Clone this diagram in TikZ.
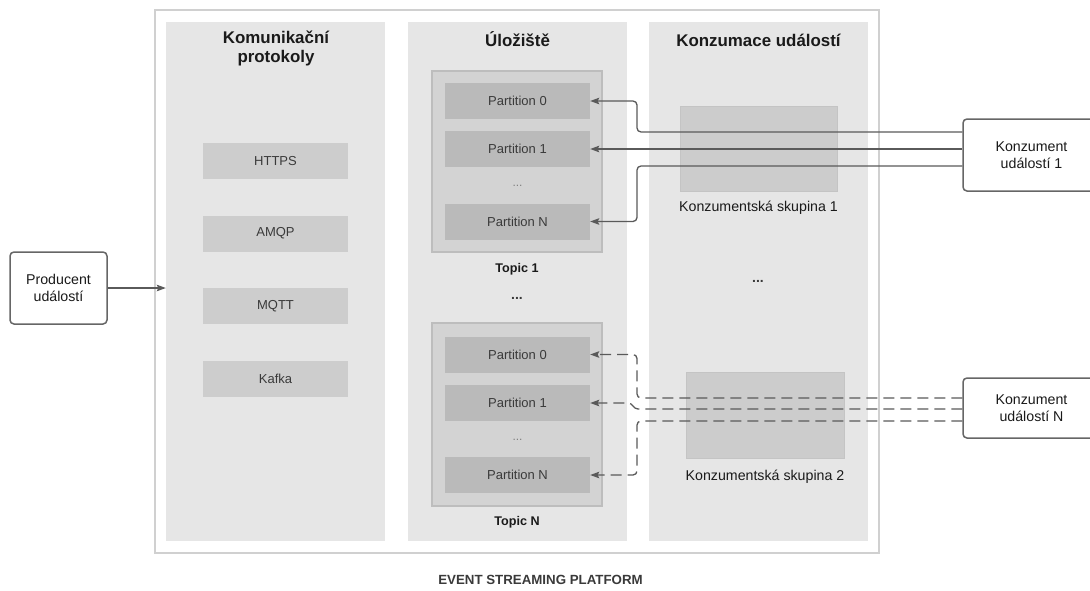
\documentclass[tikz,border=0pt]{standalone}
\usepackage{fontspec}
\setmainfont{Liberation Sans}
\usetikzlibrary{arrows.meta}

\definecolor{framegray}{HTML}{D0D0D0}
\definecolor{colfill}{HTML}{E6E6E6}
\definecolor{protofill}{HTML}{CDCDCD}
\definecolor{topicfill}{HTML}{D3D3D3}
\definecolor{topicdraw}{HTML}{BDBDBD}
\definecolor{partfill}{HTML}{BABABA}
\definecolor{groupfill}{HTML}{CCCCCC}
\definecolor{groupdraw}{HTML}{C4C4C4}
\definecolor{linegray}{HTML}{5A5A5A}
\definecolor{boxdraw}{HTML}{666666}
\definecolor{textdark}{HTML}{1A1A1A}
\definecolor{textmid}{HTML}{3A3A3A}

\begin{document}
\begin{tikzpicture}[x=1pt,y=-1pt,
  region/.style={fill=colfill, inner sep=0pt, minimum width=219pt, minimum height=519pt},
  heading/.style={font=\fontsize{16.9}{19}\selectfont\bfseries, text=textdark, align=center, inner sep=0pt},
  proto/.style={fill=protofill, inner sep=0pt, minimum width=145pt, minimum height=36pt,
    font=\fontsize{13}{15}\selectfont, text=textmid},
  topicbox/.style={fill=topicfill, draw=topicdraw, line width=1.2pt, inner sep=0pt, minimum width=170pt},
  part/.style={fill=partfill, inner sep=0pt, minimum width=145pt, minimum height=36pt,
    font=\fontsize{13}{15}\selectfont, text=textmid},
  smalldots/.style={font=\fontsize{12}{14}\selectfont, text=gray, inner sep=0pt},
  bigdots/.style={font=\fontsize{14}{16}\selectfont\bfseries, text=textmid, inner sep=0pt},
  topiclabel/.style={font=\fontsize{12.6}{15}\selectfont\bfseries, text=textdark, inner sep=0pt},
  group/.style={fill=groupfill, draw=groupdraw, line width=0.6pt, inner sep=0pt},
  grouplabel/.style={font=\fontsize{14.2}{17}\selectfont, text=textdark, inner sep=0pt},
  actor/.style={draw=boxdraw, line width=1.5pt, rounded corners=4pt, fill=white, inner sep=0pt,
    align=center, font=\fontsize{14.2}{17.5}\selectfont, text=textdark},
  conn/.style={draw=linegray, line width=1.3pt, rounded corners=4pt,
    -{Stealth[length=9pt,width=6.5pt,inset=1.5pt]}},
  dashconn/.style={conn, dash pattern=on 11pt off 6pt}
]
\useasboundingbox (0,0) rectangle (1090,590);
\clip (0,0) rectangle (1090,590);
\fill[white] (0,0) rectangle (1090,590);

% platform frame and its three columns
\node[draw=framegray, line width=2.5pt, inner sep=0pt, minimum width=724pt, minimum height=543pt]
  (platform) at (517,281.5) {};
\node[region] (col1) at (275.5,281.5) {};
\node[region] (col2) at (517.5,281.5) {};
\node[region] (col3) at (758.5,281.5) {};

% column headings
\node[heading] (h1) at (276,48) {Komunikační\\protokoly};
\node[heading, anchor=base] (h2) at (517.5,46) {Úložiště};
\node[heading, anchor=base] (h3) at (758.5,46) {Konzumace událostí};

% protocols
\node[proto] (https) at (275.5,161) {HTTPS};
\node[proto] (amqp)  at (275.5,233.5) {AMQP};
\node[proto] (mqtt)  at (275.5,306) {MQTT};
\node[proto] (kafka) at (275.5,378.5) {Kafka};

% topic 1
\node[topicbox, minimum height=181pt] (t1) at (517,161.5) {};
\node[part] (t1p0) at (517.5,101) {Partition 0};
\node[part] (t1p1) at (517.5,149) {Partition 1};
\node[smalldots] (t1dots) at (517.5,186) {...};
\node[part] (t1pN) at (517.5,221.5) {Partition N};
\node[topiclabel] (t1lbl) at (517,269) {Topic 1};

\node[bigdots] (tdots) at (517,298) {...};

% topic N
\node[topicbox, minimum height=183pt] (tN) at (517,414.5) {};
\node[part] (tNp0) at (517.5,354.5) {Partition 0};
\node[part] (tNp1) at (517.5,403) {Partition 1};
\node[smalldots] (tNdots) at (517.5,440) {...};
\node[part] (tNpN) at (517.5,475) {Partition N};
\node[topiclabel] (tNlbl) at (517,522) {Topic N};

% consumer groups
\node[group, minimum width=157pt, minimum height=85pt] (g1) at (758.5,148.5) {};
\node[grouplabel] (g1lbl) at (758.5,208) {Konzumentská skupina 1};
\node[bigdots] (gdots) at (758,281) {...};
\node[group, minimum width=158pt, minimum height=86pt] (g2) at (765,415) {};
\node[grouplabel] (g2lbl) at (765,477) {Konzumentská skupina 2};

% producer and consumers
\node[actor, minimum width=97pt, minimum height=72pt] (prod) at (58.5,288) {Producent\\událostí};
\node[actor, minimum width=137pt, minimum height=72pt] (c1) at (1031.5,155) {Konzument\\událostí 1};
\node[actor, minimum width=137pt, minimum height=60pt] (cN) at (1031.5,408) {Konzument\\událostí N};

% producer feeds the protocol layer
\draw[conn] (prod.east) -- (col1.west |- prod.east);

% vertical routing lane between storage and consumption
\coordinate (lane) at (637,0);

% consumer 1 reads topic 1
\draw[conn] ([yshift=23pt]c1.west) -| (lane |- t1p0.east) -- (t1p0.east);
\draw[conn] (c1.west |- t1p1.east) -- (t1p1.east);
\draw[conn] ([yshift=-11pt]c1.west) -| (lane |- t1pN.east) -- (t1pN.east);

% consumer N reads topic N
\draw[dashconn] ([yshift=10pt]cN.west) -| (lane |- tNp0.east) -- (tNp0.east);
\draw[dashconn, rounded corners=0pt] ([yshift=-1pt]cN.west) -- (638,409)
  .. controls (633,409) and (633,403) .. (628,403) -- (tNp1.east);
\draw[dashconn] ([yshift=-13pt]cN.west) -| (lane |- tNpN.east) -- (tNpN.east);

% caption
\node[font=\fontsize{13.3}{16}\selectfont\bfseries, text=textmid, anchor=base, inner sep=0pt]
  (caption) at (540.5,584) {EVENT STREAMING PLATFORM};
\end{tikzpicture}
\end{document}
